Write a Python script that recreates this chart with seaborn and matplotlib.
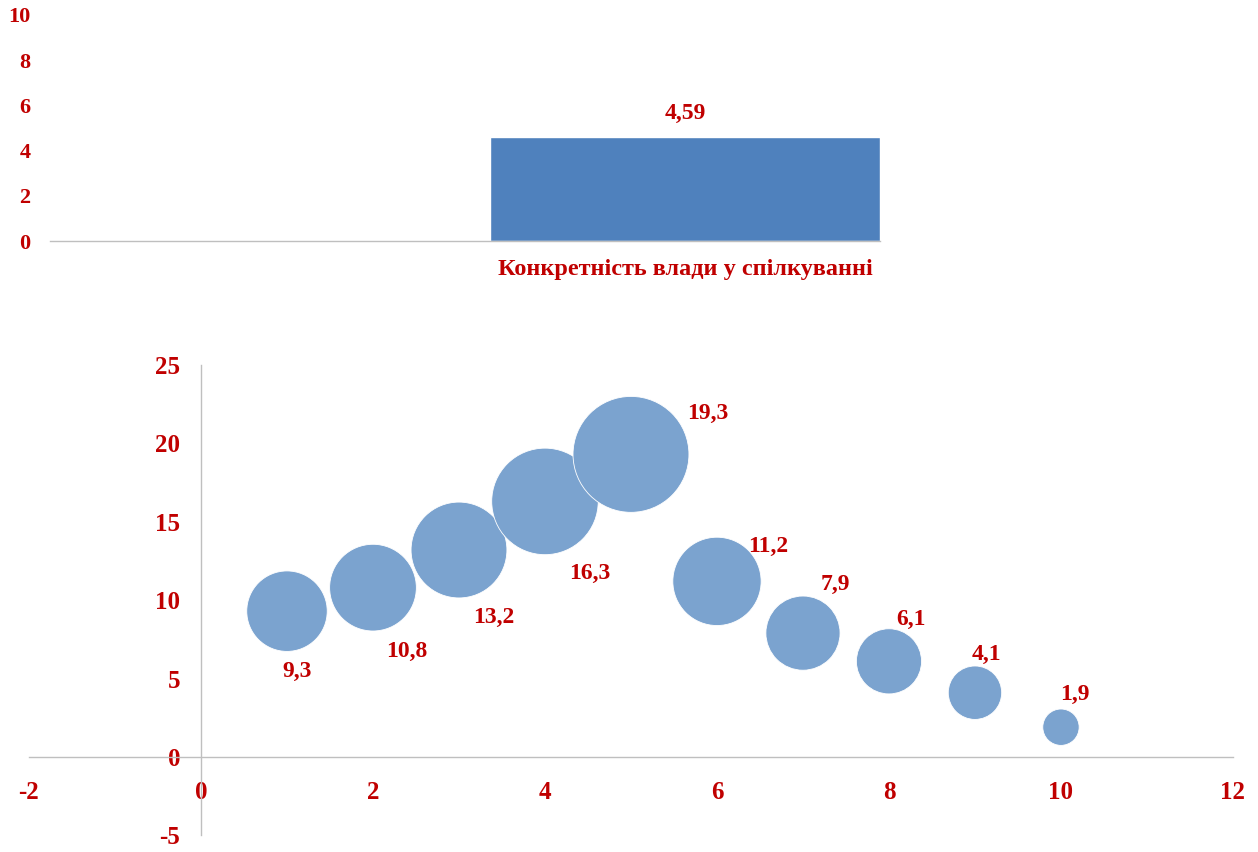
import matplotlib
matplotlib.use("Agg")
import matplotlib.pyplot as plt
import seaborn as sns
import pandas as pd
import numpy as np

# ---- data ----
bar_categories = ["", "Конкретність влади у спілкуванні"]
bar_values = [np.nan, 4.59]

bubble_x = [1, 2, 3, 4, 5, 6, 7, 8, 9, 10]
bubble_y = [9.3, 10.8, 13.2, 16.3, 19.3, 11.2, 7.9, 6.1, 4.1, 1.9]
bubble_size = [9.3, 10.8, 13.2, 16.3, 19.3, 11.2, 7.9, 6.1, 4.1, 1.9]

bar_yticks = [0, 2, 4, 6, 8, 10]
bub_xticks = [-2, 0, 2, 4, 6, 8, 10, 12]
bub_yticks = [-5, 0, 5, 10, 15, 20, 25]

# ---- style ----
sns.set_theme(style="white")
plt.rcParams["font.family"] = ["Liberation Serif", "DejaVu Serif"]
RED = "#C00000"
GREY = "#BFBFBF"
BAR = "#4F81BD"
BUBBLE = "#7BA3CF"
font = dict(color=RED, fontweight="bold")

# label offsets (pixels) for the bubble annotations
label_offsets = [(10, -60), (34, -64), (35, -67), (45, -72), (77, 41),
                 (51, 35), (32, 49), (22, 42), (11, 38), (14, 33)]

fig = plt.figure(figsize=(12.58, 8.52), dpi=100)

def dec(v, fmt):
    return format(v, fmt).replace(".", ",")

# ---- top: bar chart ----
ax1 = fig.add_axes([0.0397, 0.7171, 0.66, 0.2653])
df_bar = pd.DataFrame({"cat": bar_categories, "val": bar_values})
sns.barplot(data=df_bar, x="cat", y="val", order=bar_categories,
            color=BAR, width=0.94, saturation=1, ax=ax1)
ax1.set_xlim(-0.53, 1.47)
ax1.set_ylim(0, 10)
for side in ["top", "right", "left"]:
    ax1.spines[side].set_visible(False)
ax1.spines["bottom"].set_color(GREY)
ax1.spines["bottom"].set_linewidth(1)
ax1.set_yticks(bar_yticks)
ax1.set_yticklabels([str(t) for t in bar_yticks], fontsize=16, **font)
ax1.set_xticks(range(len(bar_categories)))
ax1.set_xticklabels(bar_categories, fontsize=17.5, **font)
ax1.tick_params(axis="y", length=0, pad=14)
ax1.tick_params(axis="x", length=0, pad=13)
ax1.set_xlabel("")
ax1.set_ylabel("")
for i, v in enumerate(bar_values):
    if not np.isnan(v):
        ax1.annotate(dec(v, ".2f"), (i, v), xytext=(0, 24),
                     textcoords="offset pixels", ha="center", va="center",
                     fontsize=17, **font)

# ---- bottom: bubble chart ----
ax2 = fig.add_axes([0.02305, 0.0195, 0.95705, 0.5521])
df_bub = pd.DataFrame({"x": bubble_x, "y": bubble_y, "s": bubble_size})
k = 361.0
sns.scatterplot(data=df_bub, x="x", y="y", size="s",
                sizes=(min(bubble_size) * k, max(bubble_size) * k),
                color=BUBBLE, edgecolor="white", linewidth=0.6,
                alpha=1, legend=False, ax=ax2, zorder=3)
ax2.spines["top"].set_visible(False)
ax2.spines["right"].set_visible(False)
ax2.spines["left"].set_position(("data", 0))
ax2.spines["bottom"].set_position(("data", 0))
for side in ["left", "bottom"]:
    ax2.spines[side].set_color(GREY)
    ax2.spines[side].set_linewidth(1)
ax2.set_xlim(-2, 12)
ax2.set_ylim(-5, 25)
ax2.set_xticks(bub_xticks)
ax2.set_yticks(bub_yticks)
ax2.set_xticklabels([str(t) for t in bub_xticks], fontsize=18, **font)
ax2.set_yticklabels([str(t) for t in bub_yticks], fontsize=18, **font)
ax2.tick_params(axis="x", length=0, pad=17)
ax2.tick_params(axis="y", length=0, pad=15)
ax2.set_xlabel("")
ax2.set_ylabel("")
for xv, yv, (dx, dy) in zip(bubble_x, bubble_y, label_offsets):
    ax2.annotate(dec(yv, ".1f"), (xv, yv), xytext=(dx, dy),
                 textcoords="offset pixels", ha="center", va="center",
                 fontsize=17, **font)

fig.savefig("out.png", dpi=100)
